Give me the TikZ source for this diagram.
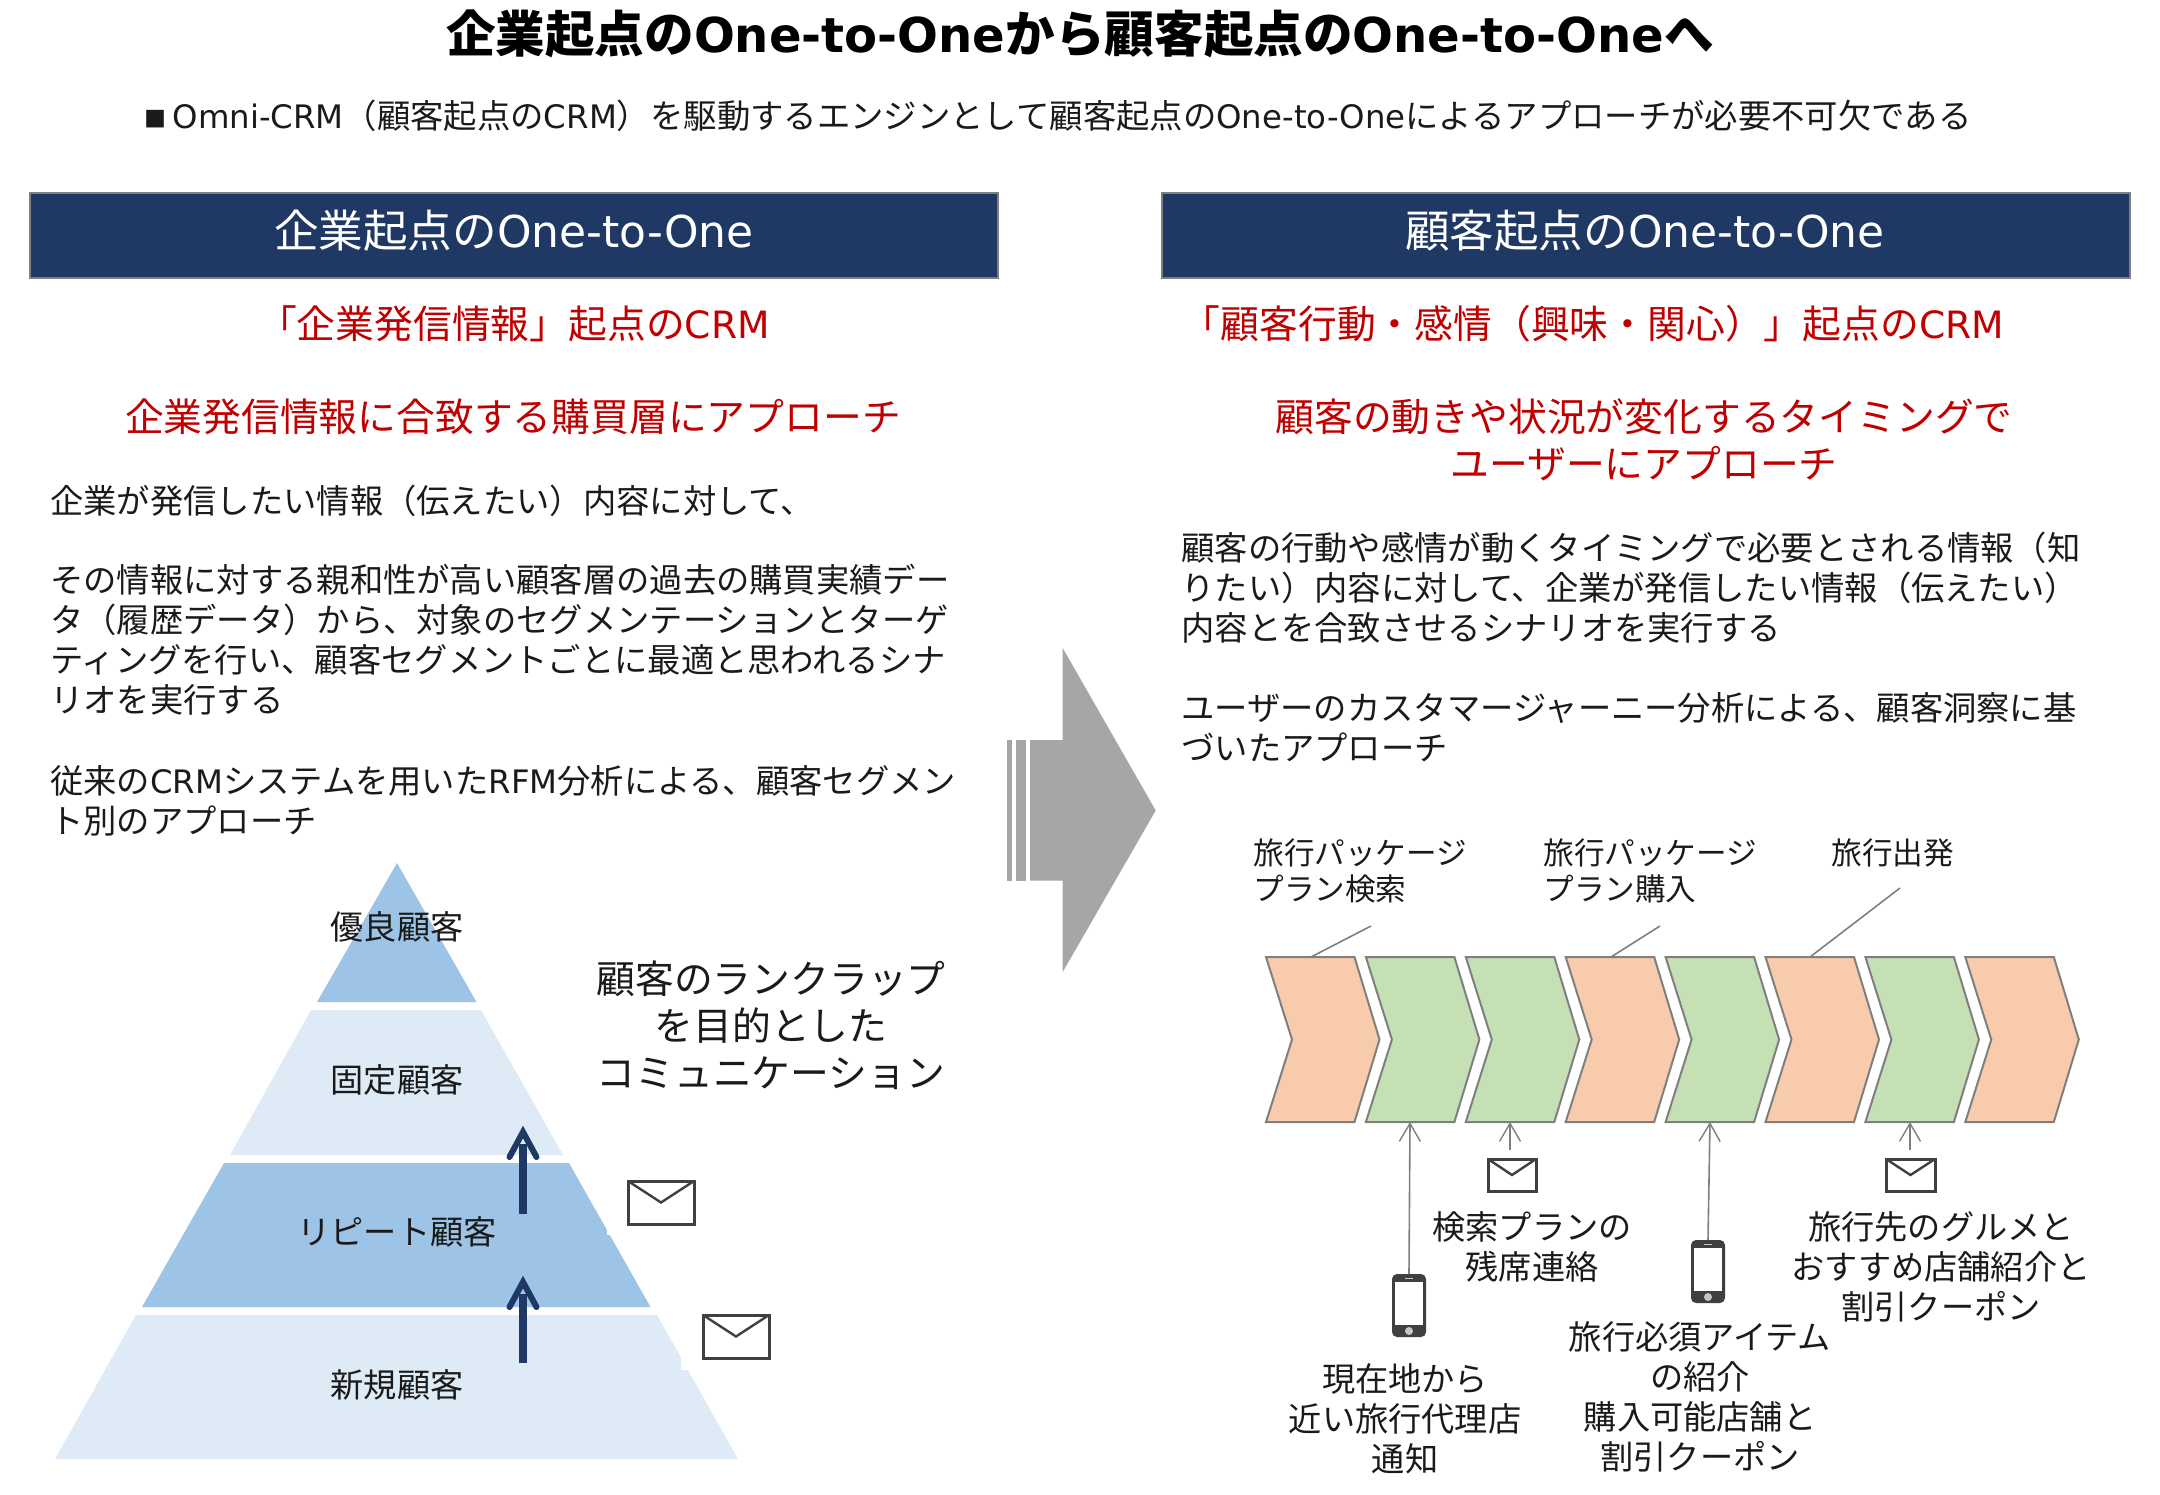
\documentclass[tikz,border=0pt]{standalone}
\usepackage{fontspec}
\usetikzlibrary{arrows.meta}
\setmainfont{Noto Sans CJK JP}
\newfontfamily\latf[Scale=0.97]{DejaVu Sans}
\newfontfamily\latg[Scale=0.985]{DejaVu Sans}
\newcommand{\LT}[1]{{\latf #1}}
\newcommand{\LG}[1]{{\latg #1}}
\newcommand{\fsz}[2]{\fontsize{#1pt}{#2pt}\selectfont}
\definecolor{navy}{HTML}{1F3864}
\definecolor{hdredge}{HTML}{7F7F7F}
\definecolor{redtxt}{HTML}{C00000}
\definecolor{txt}{HTML}{1A1A1A}
\definecolor{pyrdark}{HTML}{9DC3E6}
\definecolor{pyrlight}{HTML}{DEEAF6}
\definecolor{chevo}{HTML}{F8CBAD}
\definecolor{chevg}{HTML}{C5E0B4}
\definecolor{iconc}{HTML}{404040}
\definecolor{bigarrow}{HTML}{A6A6A6}
\tikzset{
  titletext/.style={font=\fsz{24.8}{30}\bfseries,text=black,inner sep=0pt},
  subtext/.style={font=\fsz{16.68}{20},text=txt,inner sep=0pt},
  hdrbox/.style={draw=hdredge,line width=1pt,fill=navy},
  hdrtext/.style={font=\fsz{22.3}{26},text=white,inner sep=0pt},
  redline/.style={font=\fsz{19.4}{23.5},text=redtxt,inner sep=0pt,align=center},
  bodytext/.style={font=\fsz{16.65}{20},text=txt,inner sep=0pt,align=left,anchor=west},
  pyrlabel/.style={font=\fsz{16.6}{20},text=txt,inner sep=0pt},
  ranktext/.style={font=\fsz{19.4}{23.5},text=txt,inner sep=0pt,align=center},
  steplabel/.style={font=\fsz{15.3}{18},text=txt,inner sep=0pt,align=left,anchor=west},
  notetext/.style={font=\fsz{16.6}{20},text=txt,inner sep=0pt,align=center},
  uparrowbig/.style={draw=navy,line width=3.6pt},
  uparrowhead/.style={draw=navy,line width=3pt,line cap=round,line join=miter,miter limit=20},
  thinarrow/.style={draw=hdredge,line width=0.8pt,-{Straight Barb[length=9pt,width=10.5pt,line width=0.7pt]}},
  leader/.style={draw=hdredge,line width=0.8pt},
  chevbox/.style={draw=hdredge,line width=1pt},
  envbox/.style={draw=iconc,line width=1.5pt,fill=white}
}
\newcommand{\envelope}[5]{% name x0 y0 x1 y1
  \draw[envbox] (#2,#3) rectangle (#4,#5);
  \draw[draw=iconc,line width=1.2pt] (#2,#3) -- ({(#2+#4)/2},{#3+0.5*(#5-#3)}) -- (#4,#3);
  \coordinate (#1) at ({(#2+#4)/2},#3);
}
\newcommand{\phone}[3]{% name x y(top centre)
  \fill[iconc,rounded corners=2.5pt] ({#2-17},#3) rectangle ({#2+17},{#3+63});
  \fill[white] ({#2-14},{#3+8}) rectangle ({#2+14},{#3+51});
  \fill[white!70!iconc] ({#2-4},{#3+3.5}) rectangle ({#2+4},{#3+5});
  \fill[white!70!iconc] (#2,{#3+57}) circle (2pt);
  \coordinate (#1) at (#2,#3);
}
\newcommand{\bigup}[2]{% from coordinate, to coordinate (barb tip)
  \draw[uparrowbig] (#1) -- ([yshift=-10pt]#2);
  \draw[uparrowhead] ([shift={(-13.5,33)}]#2) -- ([shift={(0,8)}]#2) -- ([shift={(13.5,33)}]#2);
}
\begin{document}
\begin{tikzpicture}[x=0.5pt,y=-0.5pt]
\useasboundingbox (0,0) rectangle (2160,1495);
% title
\node[titletext] (title) at (1080,34) {企業起点の\LT{One-to-One}から顧客起点の\LT{One-to-One}へ};
\node[subtext] (sub) at (1058,116) {\raisebox{0.5pt}{\fsz{11}{20}■}\hspace{3pt}\LT{Omni-CRM}（顧客起点の\LT{CRM}）を駆動するエンジンとして顧客起点の\LT{One-to-One}によるアプローチが必要不可欠である};
% headers
\draw[hdrbox] (30,192.5) rectangle (998,278);
\node[hdrtext] (hdrL) at (514,231) {企業起点の\LG{One-to-One}};
\draw[hdrbox] (1162,192.5) rectangle (2130,278);
\node[hdrtext] (hdrR) at (1645,231) {顧客起点の\LG{One-to-One}};
% red lines
\node[redline] (redL1) at (514,324) {「企業発信情報」起点の\LT{CRM}};
\node[redline] (redL2) at (513,417) {企業発信情報に合致する購買層にアプローチ};
\node[redline] (redR1) at (1593,324) {「顧客行動・感情（興味・関心）」起点の\LT{CRM}};
\node[redline] (redR2) at (1644,439.5) {顧客の動きや状況が変化するタイミングで\\ユーザーにアプローチ};
% body left
\node[bodytext] (bl1) at (50,500.5) {企業が発信したい情報（伝えたい）内容に対して、};
\node[bodytext] (bl2) at (50,640) {その情報に対する親和性が高い顧客層の過去の購買実績デー\\タ（履歴データ）から、対象のセグメンテーションとターゲ\\ティングを行い、顧客セグメントごとに最適と思われるシナ\\リオを実行する};
\node[bodytext] (bl3) at (50,800.5) {従来の\LT{CRM}システムを用いた\LT{RFM}分析による、顧客セグメン\\ト別のアプローチ};
% body right
\node[bodytext] (br1) at (1181,587.5) {顧客の行動や感情が動くタイミングで必要とされる情報（知\\りたい）内容に対して、企業が発信したい情報（伝えたい）\\内容とを合致させるシナリオを実行する};
\node[bodytext] (br2) at (1181,727) {ユーザーのカスタマージャーニー分析による、顧客洞察に基\\づいたアプローチ};
% pyramid
\fill[pyrdark] (397,863) -- (476.5,1002) -- (317,1002) -- cycle;
\fill[pyrlight] (311,1010) -- (481,1010) -- (563,1155) -- (230,1155) -- cycle;
\fill[pyrdark] (224,1163) -- (569,1163) -- (650.5,1307) -- (142,1307) -- cycle;
\fill[pyrlight] (136,1315) -- (657,1315) -- (738,1459) -- (55,1459) -- cycle;
\fill[white] (607,1176) rectangle (700,1235);
\fill[white] (681,1308) rectangle (775,1370);
\node[pyrlabel] (p1) at (397,926.5) {優良顧客};
\node[pyrlabel] (p2) at (397,1080) {固定顧客};
\node[pyrlabel] (p3) at (397,1232) {リピート顧客};
\node[pyrlabel] (p4) at (397,1384.5) {新規顧客};
\coordinate (upA0) at (523,1214);
\coordinate (upA1) at (523,1124);
\coordinate (upB0) at (523,1363);
\coordinate (upB1) at (523,1274);
\bigup{upA0}{upA1}
\bigup{upB0}{upB1}
\envelope{envA}{628}{1181}{694}{1224}
\envelope{envB}{703}{1315}{769}{1358}
\node[ranktext] (rank) at (771,1025) {顧客のランクラップ\\を目的とした\\コミュニケーション};
% big arrow
\fill[bigarrow] (1030,740) -- (1062.7,740) -- (1062.7,648) -- (1155.7,810.5) -- (1062.7,972) -- (1062.7,880.7) -- (1030,880.7) -- cycle;
\fill[bigarrow] (1016,740) rectangle (1025.7,880.7);
\fill[bigarrow] (1007,740) rectangle (1011.7,880.7);
% chevrons
\foreach \i/\c in {0/chevo,1/chevg,2/chevg,3/chevo,4/chevg,5/chevo,6/chevg,7/chevo}{
  \pgfmathsetmacro{\xx}{1266+99.9*\i}
  \draw[chevbox,fill=\c] (\xx,957) -- ({\xx+88.5},957) -- ({\xx+113.5},1039.5) -- ({\xx+88.5},1122) -- (\xx,1122) -- ({\xx+26},1039.5) -- cycle;
}
% step labels with leaders
\node[steplabel] (s1) at (1253,871) {旅行パッケージ\\プラン検索};
\node[steplabel] (s2) at (1543,871) {旅行パッケージ\\プラン購入};
\node[steplabel] (s3) at (1831,853) {旅行出発};
\coordinate (l1a) at (1311,957); \coordinate (l1b) at (1371,926);
\coordinate (l2a) at (1611,957); \coordinate (l2b) at (1660,926);
\coordinate (l3a) at (1810,957); \coordinate (l3b) at (1900,888);
\draw[leader] (l1a) -- (l1b);
\draw[leader] (l2a) -- (l2b);
\draw[leader] (l3a) -- (l3b);
% icons and connectors
\phone{ph1}{1409}{1274}
\phone{ph2}{1708}{1240}
\envelope{env1}{1488}{1159}{1536}{1191}
\envelope{env2}{1886}{1159}{1935}{1191}
\coordinate (t1) at (1410,1122);
\coordinate (t2) at (1510,1122);
\coordinate (t3) at (1710,1122);
\coordinate (t4) at (1910,1122);
\coordinate (f2) at (1510,1150);
\coordinate (f4) at (1910,1150);
\draw[thinarrow] (ph1) -- (t1);
\draw[thinarrow] (f2) -- (t2);
\draw[thinarrow] (ph2) -- (t3);
\draw[thinarrow] (f4) -- (t4);
% notes
\node[notetext] (n1) at (1405,1418.5) {現在地から\\近い旅行代理店\\通知};
\node[notetext] (n2) at (1532,1246.5) {検索プランの\\残席連絡};
\node[notetext] (n3) at (1700,1396.5) {旅行必須アイテム\\の紹介\\購入可能店舗と\\割引クーポン};
\node[notetext] (n4) at (1941,1266.5) {旅行先のグルメと\\おすすめ店舗紹介と\\割引クーポン};
\end{tikzpicture}
\end{document}
